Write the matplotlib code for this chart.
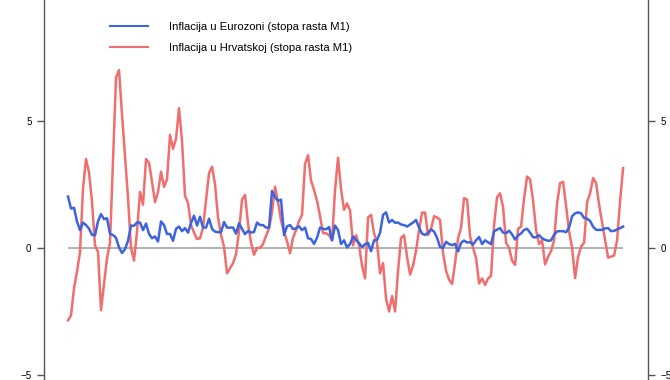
import numpy as np
import matplotlib.pyplot as plt

plt.rcParams['font.family'] = ['Liberation Sans', 'DejaVu Sans']

# monthly growth rates
euro = [2.02, 1.55, 1.58, 1.04, 0.7, 1.0, 0.9, 0.76, 0.51, 0.5,
        1.05, 1.33, 1.13, 1.17, 0.55, 0.51, 0.4, 0.02, -0.2, -0.05,
        0.28, 0.88, 0.87, 1.0, 1.0, 0.7, 0.96, 0.55, 0.38, 0.45,
        0.25, 1.04, 0.9, 0.55, 0.55, 0.28, 0.75, 0.84, 0.66, 0.78,
        0.6, 0.98, 1.27, 0.88, 1.23, 0.8, 0.8, 1.15, 0.75, 0.64,
        0.62, 0.62, 1.02, 0.8, 0.8, 0.8, 0.56, 0.97, 0.75, 0.54,
        0.67, 0.6, 0.63, 1.0, 0.9, 0.9, 0.8, 0.8, 2.24, 2.0,
        1.85, 1.9, 0.51, 0.85, 0.9, 0.74, 0.77, 0.85, 0.7, 0.8,
        0.38, 0.35, 0.16, 0.4, 0.8, 0.75, 0.73, 0.82, 0.3, 0.88,
        0.7, 0.15, 0.3, 0.02, 0.15, 0.45, 0.31, 0.19, 0.03, 0.15,
        0.2, -0.13, 0.3, 0.31, 0.6, 1.3, 1.4, 1.0, 1.1, 0.99,
        1.0, 0.92, 0.9, 0.84, 0.92, 1.0, 1.1, 0.8, 0.56, 0.51,
        0.6, 0.73, 0.64, 0.4, 0.03, 0.0, 0.24, 0.15, 0.11, 0.16,
        -0.14, 0.2, 0.29, 0.21, 0.23, 0.13, 0.3, 0.43, 0.15, 0.3,
        0.22, 0.15, 0.65, 0.72, 0.78, 0.6, 0.58, 0.68, 0.53, 0.33,
        0.49, 0.57, 0.71, 0.75, 0.6, 0.42, 0.42, 0.5, 0.38, 0.32,
        0.28, 0.3, 0.52, 0.65, 0.66, 0.66, 0.62, 0.8, 1.25, 1.36,
        1.4, 1.36, 1.18, 1.15, 1.06, 0.84, 0.71, 0.71, 0.71, 0.77,
        0.78, 0.66, 0.67, 0.73, 0.78, 0.84]

croatia = [-2.85, -2.66, -1.6, -0.93, -0.17, 2.35, 3.5, 2.97, 1.82, 0.1,
           -0.16, -2.45, -1.42, -0.4, 0.2, 3.5, 6.7, 7.0, 5.25, 3.6,
           1.97, 0.0, -0.5, 0.64, 2.2, 1.7, 3.5, 3.35, 2.6, 1.8,
           2.2, 3.0, 2.4, 2.7, 4.45, 3.9, 4.3, 5.5, 4.2, 2.05,
           1.77, 0.9, 0.6, 0.35, 0.38, 0.8, 1.89, 2.94, 3.2, 2.5,
           1.2, 0.5, 0.05, -1.0, -0.8, -0.6, -0.25, 0.65, 1.9, 2.09,
           0.95, 0.2, -0.27, 0.0, 0.0, 0.15, 0.48, 0.77, 1.4, 2.41,
           1.8, 1.08, 0.63, 0.26, -0.21, 0.4, 0.7, 1.06, 1.3, 3.3,
           3.65, 2.65, 2.28, 1.85, 1.25, 0.58, 0.58, 0.5, 0.3, 2.28,
           3.55, 2.3, 1.5, 1.75, 1.48, 0.1, 0.5, 0.1, -0.7, -1.2,
           1.2, 1.3, 0.58, 0.2, -1.0, -0.6, -2.0, -2.5, -1.9, -2.5,
           -0.9, 0.4, 0.5, -0.35, -1.05, -0.7, -0.1, 0.7, 1.39, 1.39,
           0.5, 0.75, 1.25, 1.2, 1.1, -0.2, -0.9, -1.25, -1.42, -0.6,
           0.38, 0.8, 1.96, 1.9, 0.46, 0.0, -0.4, -1.4, -1.2, -1.46,
           -1.2, -1.1, 0.9, 2.0, 2.15, 1.6, 0.2, 0.0, -0.5, -0.67,
           0.75, 0.84, 1.95, 2.81, 2.7, 1.85, 0.7, 0.15, 0.3, -0.65,
           -0.35, -0.12, 0.3, 1.75, 2.55, 2.6, 1.65, 0.65, 0.0, -1.19,
           -0.35, 0.05, 0.2, 1.8, 2.15, 2.75, 2.55, 1.7, 1.0, 0.3,
           -0.38, -0.34, -0.3, 0.3, 1.85, 3.14]

labels = ['Inflacija u Eurozoni (stopa rasta M1)',
          'Inflacija u Hrvatskoj (stopa rasta M1)']

x = np.arange(len(euro))

fig = plt.figure(figsize=(6.7, 3.8), dpi=100)
ax = fig.add_axes([44 / 670, 0, 604 / 670, 1])

ax.hlines(0, x[0], x[-1], color='#b4b4b4', lw=1.5, zorder=1)
ax.plot(x, euro, color='#3d63dd', lw=1.8, label=labels[0], zorder=3)
ax.plot(x, croatia, color='#ef6e6e', lw=1.8, label=labels[1], zorder=2)

ax.set_xlim(-8, 193.3)
ax.set_ylim(-5.2, 9.76)
ax.set_yticks([-5, 0, 5])
ax.get_xaxis().set_visible(False)
ax.spines['top'].set_visible(False)
ax.spines['bottom'].set_visible(False)
for s in ('left', 'right'):
    ax.spines[s].set_color('#555555')
    ax.spines[s].set_linewidth(1.0)
ax.tick_params(axis='y', left=True, right=True, labelleft=True, labelright=True,
               direction='out', length=5, width=1.0, color='#555555',
               labelsize=7, pad=4)

leg = ax.legend(loc='upper left', bbox_to_anchor=(100 / 670, 1 - 12 / 380),
                bbox_transform=fig.transFigure, frameon=False, fontsize=8.1,
                handlelength=3.4, handletextpad=1.8, labelspacing=0.98)
for h in leg.get_lines():
    h.set_linewidth(1.5)

fig.savefig('out.png', dpi=100)
